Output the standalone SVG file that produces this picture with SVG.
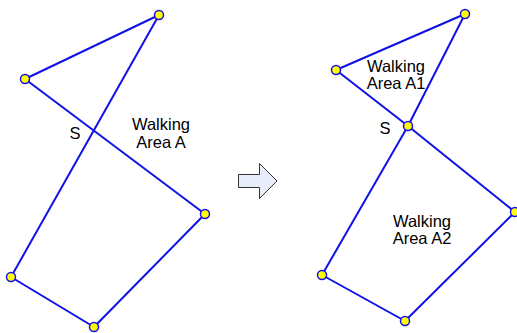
<svg xmlns="http://www.w3.org/2000/svg" width="517" height="333" viewBox="0 0 517 333">
<style>
.edge{fill:none;stroke:#1010e8;stroke-width:2;stroke-linejoin:round}
.pt{fill:#ffff00;stroke:#1010e8;stroke-width:1.5}
.lbl{font-family:"Liberation Sans",Arial,sans-serif;font-size:16.5px;fill:#000;text-anchor:middle}
</style>
<rect width="517" height="333" fill="#fff"/>
<g id="connectors">
<polygon class="edge" points="159,15 25,79 205,214 94,327 11,277"/>
<polygon class="edge" points="465,14 336,70 408,126"/>
<polygon class="edge" points="408,126 515,212 405,321 322,275"/>
</g>
<g id="left-nodes">
<circle class="pt" cx="159" cy="15" r="4.5"/>
<circle class="pt" cx="25" cy="79" r="4.5"/>
<circle class="pt" cx="205" cy="214" r="4.5"/>
<circle class="pt" cx="94" cy="327" r="4.5"/>
<circle class="pt" cx="11" cy="277" r="4.5"/>
</g>
<g id="right-nodes">
<circle class="pt" cx="465" cy="14" r="4.5"/>
<circle class="pt" cx="336" cy="70" r="4.5"/>
<circle class="pt" cx="408" cy="126" r="4.5"/>
<circle class="pt" cx="515" cy="212" r="4.5"/>
<circle class="pt" cx="405" cy="321" r="4.5"/>
<circle class="pt" cx="322" cy="275" r="4.5"/>
</g>
<g id="labels">
<text class="lbl" x="161" y="130">Walking</text>
<text class="lbl" x="161" y="148">Area A</text>
<text class="lbl" x="75" y="139">S</text>
<text class="lbl" x="396" y="72">Walking</text>
<text class="lbl" x="396" y="89">Area A1</text>
<text class="lbl" x="385" y="134">S</text>
<text class="lbl" x="422" y="227">Walking</text>
<text class="lbl" x="422" y="244">Area A2</text>
</g>
<g id="arrow">
<polygon points="238.5,174.5 259.5,174.5 259.5,163.5 277,181 259.5,198.5 259.5,187.5 238.5,187.5" fill="#e6ecf8" stroke="#333" stroke-width="1"/>
</g>
</svg>
